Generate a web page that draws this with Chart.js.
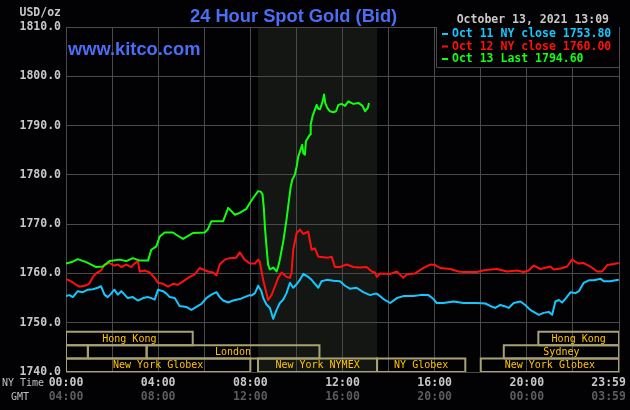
<!DOCTYPE html>
<html><head><meta charset="utf-8">
<script src="https://cdn.jsdelivr.net/npm/chart.js@4/dist/chart.umd.min.js"></script>
<style>html,body{margin:0;padding:0;background:#020204;}canvas{display:block;}</style>
</head><body>
<canvas id="c" width="630" height="410"></canvas>
<script>
// ---------- data (hours NY time, USD/oz) ----------
const blueLabel = 'Oct 11 NY close 1753.80';
const blueTimes = [0.00,0.15,0.30,0.51,0.73,0.95,1.17,1.38,1.52,1.67,1.81,1.96,2.10,2.25,2.40,2.54,2.68,2.90,3.12,3.34,3.56,3.70,3.85,3.99,4.21,4.36,4.50,4.72,4.93,5.22,5.44,5.66,5.88,6.09,6.31,6.53,6.67,6.82,7.04,7.25,7.54,7.75,7.97,8.05,8.20,8.34,8.48,8.56,8.70,8.85,8.99,9.14,9.28,9.43,9.57,9.72,9.86,10.01,10.15,10.30,10.51,10.66,10.80,10.95,11.09,11.31,11.60,11.89,12.11,12.32,12.61,12.90,13.20,13.41,13.49,13.78,14.07,14.36,14.64,15.08,15.37,15.73,15.95,16.09,16.38,16.82,17.25,17.83,18.20,18.41,18.63,18.85,19.07,19.21,19.43,19.72,19.93,20.15,20.37,20.52,20.73,20.95,21.10,21.24,21.39,21.53,21.68,21.90,22.11,22.26,22.47,22.69,22.91,23.20,23.34,23.63,23.85,23.99];
const blueValues = [1755.4,1755.6,1755.2,1756.4,1756.2,1756.7,1756.8,1757.1,1757.4,1755.7,1755.2,1755.9,1756.7,1755.7,1756.4,1755.7,1755.0,1755.2,1754.5,1755.0,1755.2,1755.0,1754.7,1756.7,1756.4,1755.9,1755.2,1755.0,1753.4,1753.2,1752.6,1753.2,1753.8,1755.0,1755.7,1756.2,1755.2,1754.5,1754.1,1754.5,1754.8,1755.2,1755.6,1755.5,1756.0,1757.5,1756.4,1755.0,1753.7,1753.0,1750.8,1752.6,1754.0,1754.7,1756.0,1758.1,1757.1,1757.8,1758.7,1759.9,1759.3,1758.7,1757.9,1757.1,1758.4,1758.7,1758.5,1758.4,1757.5,1756.9,1757.1,1756.2,1755.6,1755.9,1755.9,1754.8,1754.0,1755.0,1755.4,1755.4,1755.6,1755.6,1754.8,1754.0,1754.0,1754.3,1754.0,1754.0,1753.9,1753.4,1753.0,1753.6,1753.3,1753.0,1754.0,1754.3,1753.6,1752.6,1752.0,1751.6,1752.0,1752.2,1751.6,1754.3,1754.6,1754.1,1754.9,1756.2,1756.0,1756.4,1758.1,1758.6,1758.6,1758.9,1758.4,1758.4,1758.6,1758.7];

const redLabel = 'Oct 12 NY close 1760.00';
const redTimes = [0.00,0.22,0.44,0.59,0.88,1.02,1.17,1.31,1.52,1.67,1.89,2.10,2.25,2.40,2.62,2.83,2.97,3.12,3.20,3.41,3.63,3.85,3.99,4.21,4.43,4.64,4.86,5.08,5.37,5.59,5.80,5.95,6.16,6.38,6.53,6.67,6.89,7.10,7.39,7.54,7.75,7.98,8.20,8.34,8.41,8.56,8.70,8.77,8.92,9.07,9.21,9.36,9.57,9.72,9.79,9.86,10.01,10.15,10.30,10.51,10.66,10.80,10.95,11.17,11.38,11.53,11.67,11.89,12.18,12.47,12.76,13.05,13.27,13.41,13.49,13.63,14.07,14.36,14.64,14.79,15.15,15.44,15.80,16.02,16.24,16.67,17.04,17.25,17.83,18.20,18.70,19.14,19.57,19.86,20.08,20.30,20.59,21.02,21.17,21.46,21.75,21.96,22.25,22.47,22.76,23.05,23.27,23.49,23.77,23.99];
const redValues = [1758.9,1758.4,1757.7,1757.3,1757.6,1758.0,1759.3,1760.0,1760.6,1761.8,1762.1,1761.6,1761.8,1761.3,1761.8,1761.3,1762.0,1762.5,1760.4,1760.6,1760.2,1759.1,1758.1,1757.9,1757.3,1757.9,1757.7,1758.4,1759.3,1759.8,1761.1,1760.8,1760.4,1760.2,1759.6,1761.8,1762.8,1763.1,1763.2,1764.3,1762.8,1762.0,1762.0,1762.8,1762.4,1758.6,1756.0,1754.6,1755.6,1757.4,1759.1,1760.2,1759.3,1759.1,1760.2,1764.8,1768.2,1768.9,1768.0,1768.5,1764.8,1765.1,1763.4,1763.3,1763.2,1763.4,1761.3,1761.3,1761.8,1761.3,1761.2,1761.3,1760.4,1760.2,1759.3,1760.0,1759.9,1760.4,1759.1,1759.8,1760.0,1760.9,1761.8,1761.7,1761.1,1760.9,1760.4,1760.3,1760.3,1760.7,1760.9,1760.4,1760.6,1760.3,1760.6,1761.6,1760.9,1761.4,1760.8,1761.0,1761.4,1762.8,1762.0,1762.1,1761.4,1760.4,1760.4,1761.7,1761.9,1762.1];

const greenLabel = 'Oct 13 Last 1794.60';
const greenTimes = [0.00,0.25,0.51,0.88,1.31,1.60,1.89,2.33,2.62,2.90,3.20,3.56,3.70,3.92,4.07,4.28,4.64,4.80,5.08,5.51,6.02,6.15,6.31,6.82,7.04,7.33,7.54,7.83,7.98,8.12,8.34,8.45,8.53,8.59,8.63,8.70,8.77,8.85,8.99,9.14,9.21,9.28,9.43,9.57,9.68,9.75,9.82,9.93,10.01,10.08,10.18,10.25,10.30,10.37,10.41,10.51,10.59,10.62,10.70,10.80,10.88,10.95,11.02,11.14,11.20,11.25,11.34,11.46,11.60,11.72,11.82,11.96,12.11,12.25,12.47,12.69,12.87,12.98,13.10,13.15];
const greenValues = [1762.0,1762.3,1762.9,1762.3,1761.3,1761.4,1762.5,1762.8,1762.5,1763.1,1762.6,1762.6,1764.8,1765.5,1767.5,1768.3,1768.3,1767.8,1767.0,1768.2,1768.3,1768.9,1770.6,1770.6,1773.3,1771.9,1772.3,1773.1,1774.3,1775.3,1776.7,1776.6,1776.0,1773.0,1769.6,1765.5,1761.8,1760.8,1761.2,1760.4,1761.4,1762.8,1766.5,1770.9,1775.0,1777.5,1779.0,1780.0,1781.7,1783.7,1785.1,1786.1,1784.4,1784.1,1786.8,1787.6,1788.2,1790.2,1791.9,1793.2,1794.2,1793.4,1793.3,1794.9,1796.3,1794.6,1793.6,1792.9,1792.7,1792.9,1794.2,1794.4,1794.0,1794.9,1794.4,1794.6,1794.0,1792.9,1793.6,1794.6];

// market sessions (row 0 = top strip)
const sessionNames = ['Hong Kong','','','London','New York Globex','New York NYMEX','NY Globex','New York Globex','Sydney','Hong Kong'];
const sessionStart = [0, 0, 0.95, 3.5, 0, 8.333, 13.5, 18, 19, 20.5];
const sessionEnd   = [5.5, 0.95, 3.5, 11, 8, 13.5, 17.33, 24, 24, 24];
const sessionRow   = [0, 1, 1, 1, 2, 2, 2, 2, 1, 0];

// axis tick labels
const tickHours = [0, 4, 8, 12, 16, 20, 24];
const nyTickLabels  = ['00:00','04:00','08:00','12:00','16:00','20:00','23:59'];
const gmtTickLabels = ['04:00','08:00','12:00','16:00','20:00','00:00','03:59'];

const titleText = '24 Hour Spot Gold (Bid)';
const siteText = 'www.kitco.com';
const dateText = 'October 13, 2021 13:09';
const unitText = 'USD/oz';

// ---------- styling ----------
const BG = '#020204', GRID = '#4a4a4a', SHADE = '#141614';
const BLUE = '#14c8ff', RED = '#ff1010', GREEN = '#10ff10';
const BOX = '#a8a272', SESS_TXT = '#ffc400', TITLE = '#4b6ef5';
const MONO = '"DejaVu Sans Mono", monospace';

const pts = (t, v) => t.map((x, i) => ({x, y: v[i]}));
const series = [
  {label: blueLabel, color: BLUE, t: blueTimes, v: blueValues},
  {label: redLabel, color: RED, t: redTimes, v: redValues},
  {label: greenLabel, color: GREEN, t: greenTimes, v: greenValues}
];

const datasets = [];
[2, 1, 0].forEach(i => {
  const s = series[i];
  datasets.push({label: s.label, data: pts(s.t, s.v), borderColor: s.color, borderWidth: 2,
    pointRadius: 0, tension: 0, borderJoinStyle: 'round', xAxisID: 'x', yAxisID: 'y'});
});
sessionNames.forEach((n, i) => {
  const lv = 2 - sessionRow[i], a = sessionStart[i], b = sessionEnd[i];
  datasets.push({label: 'session:' + n, sessName: n, data: [{x:a,y:lv},{x:a,y:lv+1},{x:b,y:lv+1},{x:b,y:lv},{x:a,y:lv}],
    borderColor: BOX, borderWidth: 2, pointRadius: 0, tension: 0, fill: false, xAxisID: 'x', yAxisID: 'ys'});
});

const tickCb = labels => (v, i) => {
  const k = tickHours.indexOf(v);
  if (k < 0) return '';
  return k === tickHours.length - 1 ? labels[k] + '   ' : labels[k];
};

const deco = {
  id: 'deco',
  beforeDraw(chart) {
    const {ctx, chartArea: a, scales: {x}} = chart;
    ctx.save();
    ctx.fillStyle = BG; ctx.fillRect(0, 0, chart.width, chart.height);
    const k = sessionNames.indexOf('New York NYMEX');
    const x0 = x.getPixelForValue(sessionStart[k]), x1 = x.getPixelForValue(sessionEnd[k]);
    ctx.fillStyle = SHADE;
    ctx.fillRect(x0, a.top, x1 - x0, a.bottom - a.top);
    ctx.restore();
  },
  afterDraw(chart) {
    const {ctx, chartArea: a, scales: {x, ys}} = chart;
    ctx.save();
    // session labels
    ctx.font = '10px ' + MONO; ctx.fillStyle = SESS_TXT; ctx.textAlign = 'center'; ctx.textBaseline = 'middle';
    sessionNames.forEach((n, i) => {
      if (!n) return;
      const lv = 2 - sessionRow[i];
      const cx = (x.getPixelForValue(sessionStart[i]) + x.getPixelForValue(sessionEnd[i])) / 2;
      ctx.fillText(n, cx, ys.getPixelForValue(lv + 0.5) + 0.5);
    });
    // legend box
    const lx = a.right - 183, ly = a.top, lw = 183, lh = 40;
    ctx.fillStyle = BG; ctx.fillRect(lx, ly, lw, lh);
    ctx.strokeStyle = GRID; ctx.lineWidth = 1;
    ctx.beginPath(); ctx.moveTo(lx + 0.5, ly); ctx.lineTo(lx + 0.5, ly + lh + 0.5); ctx.lineTo(a.right, ly + lh + 0.5); ctx.stroke();
    ctx.font = 'bold 11.5px ' + MONO; ctx.textAlign = 'left';
    series.forEach((s, i) => {
      const cy = ly + 7 + i * 12.5;
      ctx.fillStyle = s.color;
      ctx.fillRect(lx + 6, cy - 1, 6, 2);
      ctx.fillText(s.label, lx + 16, cy + 0.5);
    });
    // texts
    ctx.fillStyle = '#c8c8c8'; ctx.textAlign = 'right';
    ctx.fillText(unitText, a.left - 5, 13);
    ctx.fillText(dateText, 609, 20);
    ctx.font = '10px ' + MONO; ctx.textAlign = 'left'; ctx.fillStyle = '#c0c0c0';
    ctx.fillText('NY Time', 2, 383);
    ctx.fillText('GMT', 11, 397);
    ctx.font = 'bold 18.3px "Liberation Sans", Arial, sans-serif'; ctx.fillStyle = TITLE; ctx.textBaseline = 'alphabetic';
    ctx.fillText(titleText, 190, 22);
    ctx.fillText(siteText, 68, 55);
    ctx.restore();
  }
};

new Chart(document.getElementById('c'), {
  type: 'line',
  data: {datasets},
  options: {
    responsive: false, animation: false, events: [],
    layout: {padding: {left: 0, right: 11, top: 27, bottom: 0}},
    plugins: {legend: {display: false}, tooltip: {enabled: false}, title: {display: false}},
    scales: {
      x: {type: 'linear', min: 0, max: 24, position: 'bottom', weight: 0,
        grid: {color: GRID, drawTicks: false}, border: {color: GRID},
        ticks: {stepSize: 2, autoSkip: false, maxRotation: 0, padding: 4, color: '#c8c8c8',
          font: {family: MONO, size: 11.5, weight: 'bold'}, callback: tickCb(nyTickLabels)},
        afterFit: s => { s.height = 18; s.paddingLeft = 0; s.paddingRight = 0; }},
      x2: {type: 'linear', min: 0, max: 24, position: 'bottom', weight: 1,
        grid: {display: false, drawTicks: false}, border: {display: false},
        ticks: {stepSize: 2, autoSkip: false, maxRotation: 0, padding: 0, color: '#5c5c5c',
          font: {family: MONO, size: 11.5, weight: 'bold'}, callback: tickCb(gmtTickLabels)},
        afterFit: s => { s.height = 20; s.paddingLeft = 0; s.paddingRight = 0; }},
      y: {type: 'linear', min: 1740, max: 1810, position: 'left',
        grid: {color: GRID, drawTicks: false}, border: {color: GRID},
        ticks: {stepSize: 10, padding: 5, color: '#c8c8c8',
          font: {family: MONO, size: 11.5, weight: 'bold'}, callback: v => v.toFixed(1)},
        afterFit: s => { s.width = 66; s.paddingTop = 0; s.paddingBottom = 0; }},
      ys: {type: 'linear', display: false, min: 0, max: 25.75}
    }
  },
  plugins: [deco]
});
</script>
</body></html>
